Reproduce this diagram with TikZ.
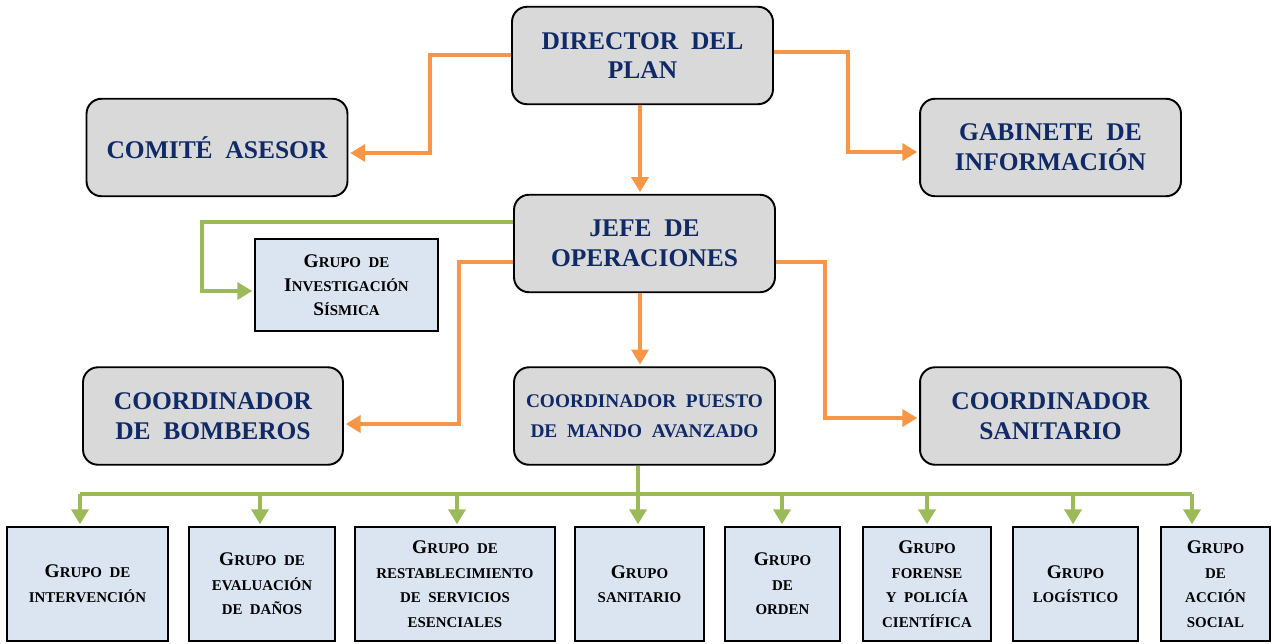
\documentclass[tikz,border=0pt]{standalone}
\usepackage{fontspec}
\setmainfont{Liberation Serif}
\usetikzlibrary{arrows.meta,calc}
\definecolor{navy}{HTML}{0F2A66}
\definecolor{boxgray}{HTML}{D9D9D9}
\definecolor{boxblue}{HTML}{DBE5F1}
\definecolor{orangeline}{HTML}{F79646}
\definecolor{greenline}{HTML}{9BBB59}
\newcommand\Ini[1]{{\fontsize{11}{14}\selectfont #1}}
\begin{document}
\begin{tikzpicture}[x=0.02cm,y=-0.02cm,
  mainbox/.style={draw=black, line width=1.1pt, fill=boxgray, rounded corners=0.3cm,
    align=center, text=navy, font=\fontsize{14.5}{17}\selectfont\bfseries, inner sep=0pt,
    minimum width=5.22cm, minimum height=1.95cm},
  grpbox/.style={draw=black, line width=1.1pt, fill=boxblue, align=center,
    font=\fontsize{8.5}{14}\selectfont\bfseries, inner sep=0pt},
  botbox/.style={grpbox, minimum height=2.28cm},
  oarrow/.style={draw=orangeline, line width=2.2pt, shorten >=1pt, -{Triangle[width=0.34cm,length=0.3cm]}},
  garrow/.style={draw=greenline, line width=2.2pt, shorten >=1pt, -{Triangle[width=0.34cm,length=0.3cm]}},
  gline/.style={draw=greenline, line width=2.2pt}]
\useasboundingbox (0,0) rectangle (1274,643);

% main boxes
\node[mainbox] (dir) at (642.5,55.5) {DIRECTOR\ \ DEL\\PLAN};
\node[mainbox] (com) at (217,147.5) {COMITÉ\ \ ASESOR};
\node[mainbox] (gab) at (1050.5,147.5) {GABINETE\ \ DE\\INFORMACIÓN};
\node[mainbox] (jefe) at (644.5,243.5) {JEFE\ \ DE\\OPERACIONES};
\node[grpbox, minimum width=3.66cm, minimum height=1.84cm, font=\fontsize{8.5}{13.5}\selectfont\bfseries] (sis) at (346.5,285)
  {\Ini{G}RUPO\ \ DE\\\Ini{I}NVESTIGACIÓN\\\Ini{S}ÍSMICA};
\node[mainbox, minimum width=5.2cm] (bom) at (213,416) {COORDINADOR\\DE\ \ BOMBEROS};
\node[mainbox, font=\fontsize{11}{17}\selectfont\bfseries] (pma) at (644.5,416)
  {COORDINADOR\ \ PUESTO\\DE\ \ MANDO\ \ AVANZADO};
\node[mainbox] (san) at (1050.5,416) {COORDINADOR\\SANITARIO};

% bottom boxes
\node[botbox, minimum width=3.22cm] (b1) at (87.5,584) {\Ini{G}RUPO\ \ DE\\INTERVENCIÓN};
\node[botbox, minimum width=2.92cm] (b2) at (262,584) {\Ini{G}RUPO\ \ DE\\EVALUACIÓN\\DE\ \ DAÑOS};
\node[botbox, minimum width=4.0cm] (b3) at (455,584) {\Ini{G}RUPO\ \ DE\\RESTABLECIMIENTO\\DE\ \ SERVICIOS\\ESENCIALES};
\node[botbox, minimum width=2.58cm] (b4) at (639.5,584) {\Ini{G}RUPO\\SANITARIO};
\node[botbox, minimum width=2.3cm] (b5) at (782.5,584) {\Ini{G}RUPO\\DE\\ORDEN};
\node[botbox, minimum width=2.56cm] (b6) at (927,584) {\Ini{G}RUPO\\FORENSE\\Y\ \ POLICÍA\\CIENTÍFICA};
\node[botbox, minimum width=2.5cm] (b7) at (1075.5,584) {\Ini{G}RUPO\\LOGÍSTICO};
\node[botbox, minimum width=2.18cm] (b8) at (1215.5,584) {\Ini{G}RUPO\\DE\\ACCIÓN\\SOCIAL};

% orange connectors
\draw[oarrow] (dir.west |- 0,55) -| (430,153) -- (com.east |- 0,153);
\draw[oarrow] (dir.east |- 0,52) -| (848,152) -- (gab.west |- 0,152);
\draw[oarrow] (dir.south -| 640,0) -- (jefe.north -| 640,0);
\draw[oarrow] (jefe.west |- 0,262) -| (459,424) -- (bom.east |- 0,424);
\draw[oarrow] (jefe.east |- 0,262) -| (825,418) -- (san.west |- 0,418);
\draw[oarrow] (jefe.south -| 640,0) -- (pma.north -| 640,0);

% green connectors
\draw[garrow] (jefe.west |- 0,222) -| (202,291) -- (sis.west |- 0,291);
\coordinate (busL) at (80,494);
\coordinate (busR) at (1192,494);
\draw[gline] (pma.south -| 638,0) -- (638,494);
\draw[gline] (busL) -- (busR);
\draw[garrow] (busL) -- (b1.north -| 80,0);
\draw[garrow] (260,494) -- (b2.north -| 260,0);
\draw[garrow] (457,494) -- (b3.north -| 457,0);
\draw[garrow] (638,494) -- (b4.north -| 638,0);
\draw[garrow] (782,494) -- (b5.north -| 782,0);
\draw[garrow] (927,494) -- (b6.north -| 927,0);
\draw[garrow] (1073,494) -- (b7.north -| 1073,0);
\draw[garrow] (busR) -- (b8.north -| 1192,0);
\end{tikzpicture}
\end{document}
